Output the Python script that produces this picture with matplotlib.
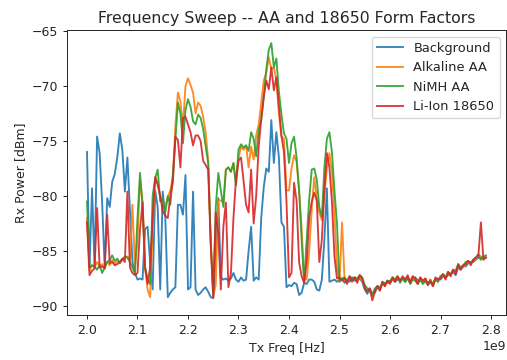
import numpy as np
import matplotlib
matplotlib.use('Agg')
import matplotlib.pyplot as plt

# sweep 2.000 - 2.790 GHz, 5 MHz steps
freq = np.linspace(2.000e9, 2.790e9, 159)

# flat tail (2.50 - 2.79 GHz) is listed separately per series, just joined below
background_hi = [
    -76.0, -86.5, -79.3, -86.5, -74.6, -76.1, -80.6, -86.5, -80.2, -81.0,
    -78.7, -78.0, -76.5, -74.3, -75.8, -79.6, -76.5, -81.3, -86.0, -87.0,
    -87.6, -87.5, -87.6, -83.0, -82.8, -86.0, -88.5, -79.5, -81.0, -88.5,
    -79.6, -81.9, -89.2, -88.8, -88.5, -88.3, -80.8, -80.8, -81.7, -78.1,
    -88.5, -88.3, -79.6, -88.5, -89.0, -88.8, -88.5, -88.3, -88.7, -89.2,
    -89.3, -85.0, -80.2, -87.4, -87.6, -87.5, -87.7, -87.5, -87.0, -87.6,
    -87.8, -87.4, -87.7, -87.6, -85.0, -82.8, -87.7, -87.4, -87.6, -82.0,
    -79.2, -77.5, -77.8, -73.1, -77.0, -74.2, -76.5, -82.4, -82.8, -88.3,
    -88.1, -88.2, -87.9, -88.0, -89.0, -88.8, -87.9, -88.0, -87.6, -87.6,
    -87.8, -88.5, -88.6, -87.6, -84.0, -79.3, -87.8, -87.7, -87.6, -87.8,
]
background_lo = [
    -87.6, -87.5, -87.9, -87.6, -87.8, -87.4, -87.7, -87.6, -87.5, -87.8,
    -88.5, -88.9, -88.4, -88.9, -88.8, -88.2, -88.3, -88.0, -87.9, -87.9,
    -87.7, -87.6, -87.8, -87.6, -87.6, -87.5, -87.8, -87.5, -87.9, -87.5,
    -87.4, -87.7, -87.6, -87.9, -87.8, -87.8, -87.9, -87.9, -87.6, -87.5,
    -87.6, -87.3, -87.4, -87.2, -87.1, -86.9, -87.2, -86.5, -86.7, -86.3,
    -86.4, -86.1, -86.0, -86.0, -85.8, -85.6, -85.7, -85.5, -85.6,
]

alkaline_hi = [
    -82.0, -86.8, -86.3, -86.5, -86.0, -86.4, -86.2, -86.6, -86.0, -86.3,
    -85.8, -86.2, -85.9, -86.1, -85.7, -85.6, -85.5, -85.8, -80.8, -86.5,
    -84.0, -78.5, -80.5, -86.5, -88.5, -89.2, -83.0, -78.3, -78.8, -80.0,
    -80.5, -81.0, -80.1, -79.5, -78.3, -73.7, -70.6, -71.4, -73.7, -70.0,
    -69.3, -69.9, -70.6, -72.5, -71.5, -71.8, -72.8, -74.2, -76.8, -84.0,
    -89.2, -88.0, -80.4, -80.4, -80.6, -77.6, -77.4, -77.8, -77.0, -79.0,
    -76.6, -75.5, -75.8, -75.4, -77.4, -75.5, -76.7, -74.5, -73.5, -71.5,
    -69.5, -68.8, -67.4, -68.5, -68.3, -69.5, -72.5, -74.6, -74.8, -79.5,
    -79.5, -77.5, -76.3, -76.9, -79.5, -83.0, -87.5, -87.6, -85.0, -81.2,
    -78.3, -80.2, -81.5, -82.2, -80.0, -77.5, -76.1, -77.8, -81.5, -86.5,
]
alkaline_lo = [
    -87.8, -82.4, -87.6, -87.8, -87.5, -87.6, -87.4, -87.7, -87.4, -87.7,
    -88.2, -88.5, -88.7, -89.0, -88.5, -88.4, -88.4, -88.0, -88.2, -87.7,
    -87.9, -87.6, -87.6, -87.5, -87.7, -87.5, -87.6, -87.4, -87.7, -87.3,
    -87.7, -87.8, -87.4, -87.9, -87.5, -87.9, -87.8, -88.0, -87.5, -87.8,
    -87.3, -87.3, -87.4, -87.1, -87.1, -86.9, -87.0, -86.4, -86.5, -86.5,
    -86.1, -86.1, -86.1, -85.8, -85.8, -85.3, -85.5, -85.7, -85.6,
]

nimh_hi = [
    -80.5, -86.5, -86.3, -86.4, -86.7, -86.3, -87.0, -86.5, -86.0, -85.8,
    -85.4, -85.9, -85.7, -86.1, -85.8, -85.5, -85.6, -86.0, -86.5, -87.0,
    -82.0, -77.9, -80.9, -86.5, -87.5, -88.0, -80.0, -78.4, -77.6, -80.5,
    -80.3, -81.5, -80.0, -80.8, -78.0, -74.9, -71.5, -72.5, -75.2, -72.2,
    -71.2, -71.9, -73.2, -73.5, -72.6, -72.9, -73.9, -75.5, -77.0, -84.0,
    -88.8, -81.0, -77.9, -79.5, -81.0, -77.6, -77.4, -77.8, -77.0, -79.0,
    -75.8, -75.3, -75.6, -75.4, -75.9, -74.2, -74.8, -76.4, -74.0, -73.1,
    -71.0, -68.5, -66.7, -66.1, -68.3, -67.5, -70.5, -72.6, -74.3, -74.8,
    -77.0, -75.2, -74.6, -76.5, -79.5, -84.0, -87.9, -84.0, -80.3, -77.6,
    -77.5, -78.5, -81.0, -81.9, -77.5, -74.8, -74.2, -76.0, -79.5, -82.5,
]
nimh_lo = [
    -87.8, -87.5, -87.4, -87.7, -87.3, -87.6, -87.4, -87.5, -87.2, -87.4,
    -88.1, -88.4, -88.6, -89.0, -88.4, -88.2, -88.6, -87.8, -88.0, -87.7,
    -87.8, -87.4, -87.6, -87.3, -87.9, -87.5, -87.8, -87.4, -88.0, -87.6,
    -87.7, -88.0, -87.6, -88.0, -87.7, -88.1, -87.8, -88.2, -87.6, -87.8,
    -87.3, -87.1, -87.4, -86.9, -87.1, -86.7, -86.8, -86.2, -86.5, -86.3,
    -86.0, -85.9, -86.1, -85.8, -85.6, -85.3, -85.8, -85.5, -85.4,
]

liion_hi = [
    -82.4, -87.2, -86.8, -86.6, -81.1, -86.5, -86.4, -86.6, -81.7, -86.1,
    -86.0, -86.3, -86.2, -86.0, -85.7, -86.0, -79.6, -86.5, -87.0, -87.2,
    -87.0, -83.0, -80.6, -86.5, -88.0, -86.5, -82.0, -78.3, -79.0, -80.0,
    -81.4, -81.8, -82.0, -80.0, -78.8, -74.6, -74.9, -77.4, -72.9, -72.8,
    -73.5, -74.2, -75.4, -74.5, -74.5, -75.0, -76.8, -77.2, -77.6, -84.5,
    -89.2, -81.5, -83.4, -88.5, -82.8, -80.6, -88.3, -87.0, -82.0, -78.5,
    -76.8, -76.5, -78.6, -80.8, -81.5, -77.6, -82.5, -80.0, -75.5, -73.0,
    -71.0, -69.5, -70.3, -68.3, -70.4, -69.2, -71.8, -74.5, -76.0, -80.5,
    -87.4, -87.0, -78.8, -80.4, -86.0, -87.3, -87.9, -86.0, -82.0, -80.5,
    -79.7, -80.4, -86.0, -84.0, -79.5, -76.1, -77.4, -80.5, -85.5, -87.5,
]
liion_lo = [
    -87.4, -87.7, -87.5, -88.0, -87.3, -87.8, -87.4, -87.9, -87.2, -87.5,
    -88.4, -88.7, -88.4, -89.5, -88.7, -88.2, -88.6, -87.8, -88.2, -87.7,
    -88.0, -87.4, -87.8, -87.3, -87.7, -87.3, -87.6, -87.2, -87.9, -87.3,
    -87.5, -88.0, -87.4, -87.7, -87.5, -88.1, -87.6, -88.2, -87.4, -87.6,
    -87.5, -87.1, -87.6, -86.9, -87.3, -86.7, -87.1, -86.2, -86.7, -86.3,
    -86.2, -85.9, -86.3, -85.8, -85.6, -85.4, -82.4, -85.8, -85.6,
]

series = {
    'Background': background_hi + background_lo,
    'Alkaline AA': alkaline_hi + alkaline_lo,
    'NiMH AA': nimh_hi + nimh_lo,
    'Li-Ion 18650': liion_hi + liion_lo,
}

# dark grey text and frame
for key in ['text.color', 'axes.labelcolor', 'xtick.color', 'ytick.color', 'axes.edgecolor']:
    plt.rcParams[key] = '.15'

DPI = 90
fig = plt.figure(figsize=(507/DPI, 360/DPI), dpi=DPI)
ax = fig.add_axes([67/507, 45/360, 439/507, 285/360])

for name, vals in series.items():
    ax.plot(freq, vals, lw=1.5, alpha=0.9, label=name)

ax.set_xlim(1.9604e9, 2.8297e9)
ax.set_ylim(-90.82, -64.91)
ax.set_title('Frequency Sweep -- AA and 18650 Form Factors', fontsize=12.6)
ax.set_xlabel('Tx Freq [Hz]')
ax.set_ylabel('Rx Power [dBm]')
ax.legend(loc='upper right', fontsize=10.4)

fig.savefig('out.png', dpi=DPI)
